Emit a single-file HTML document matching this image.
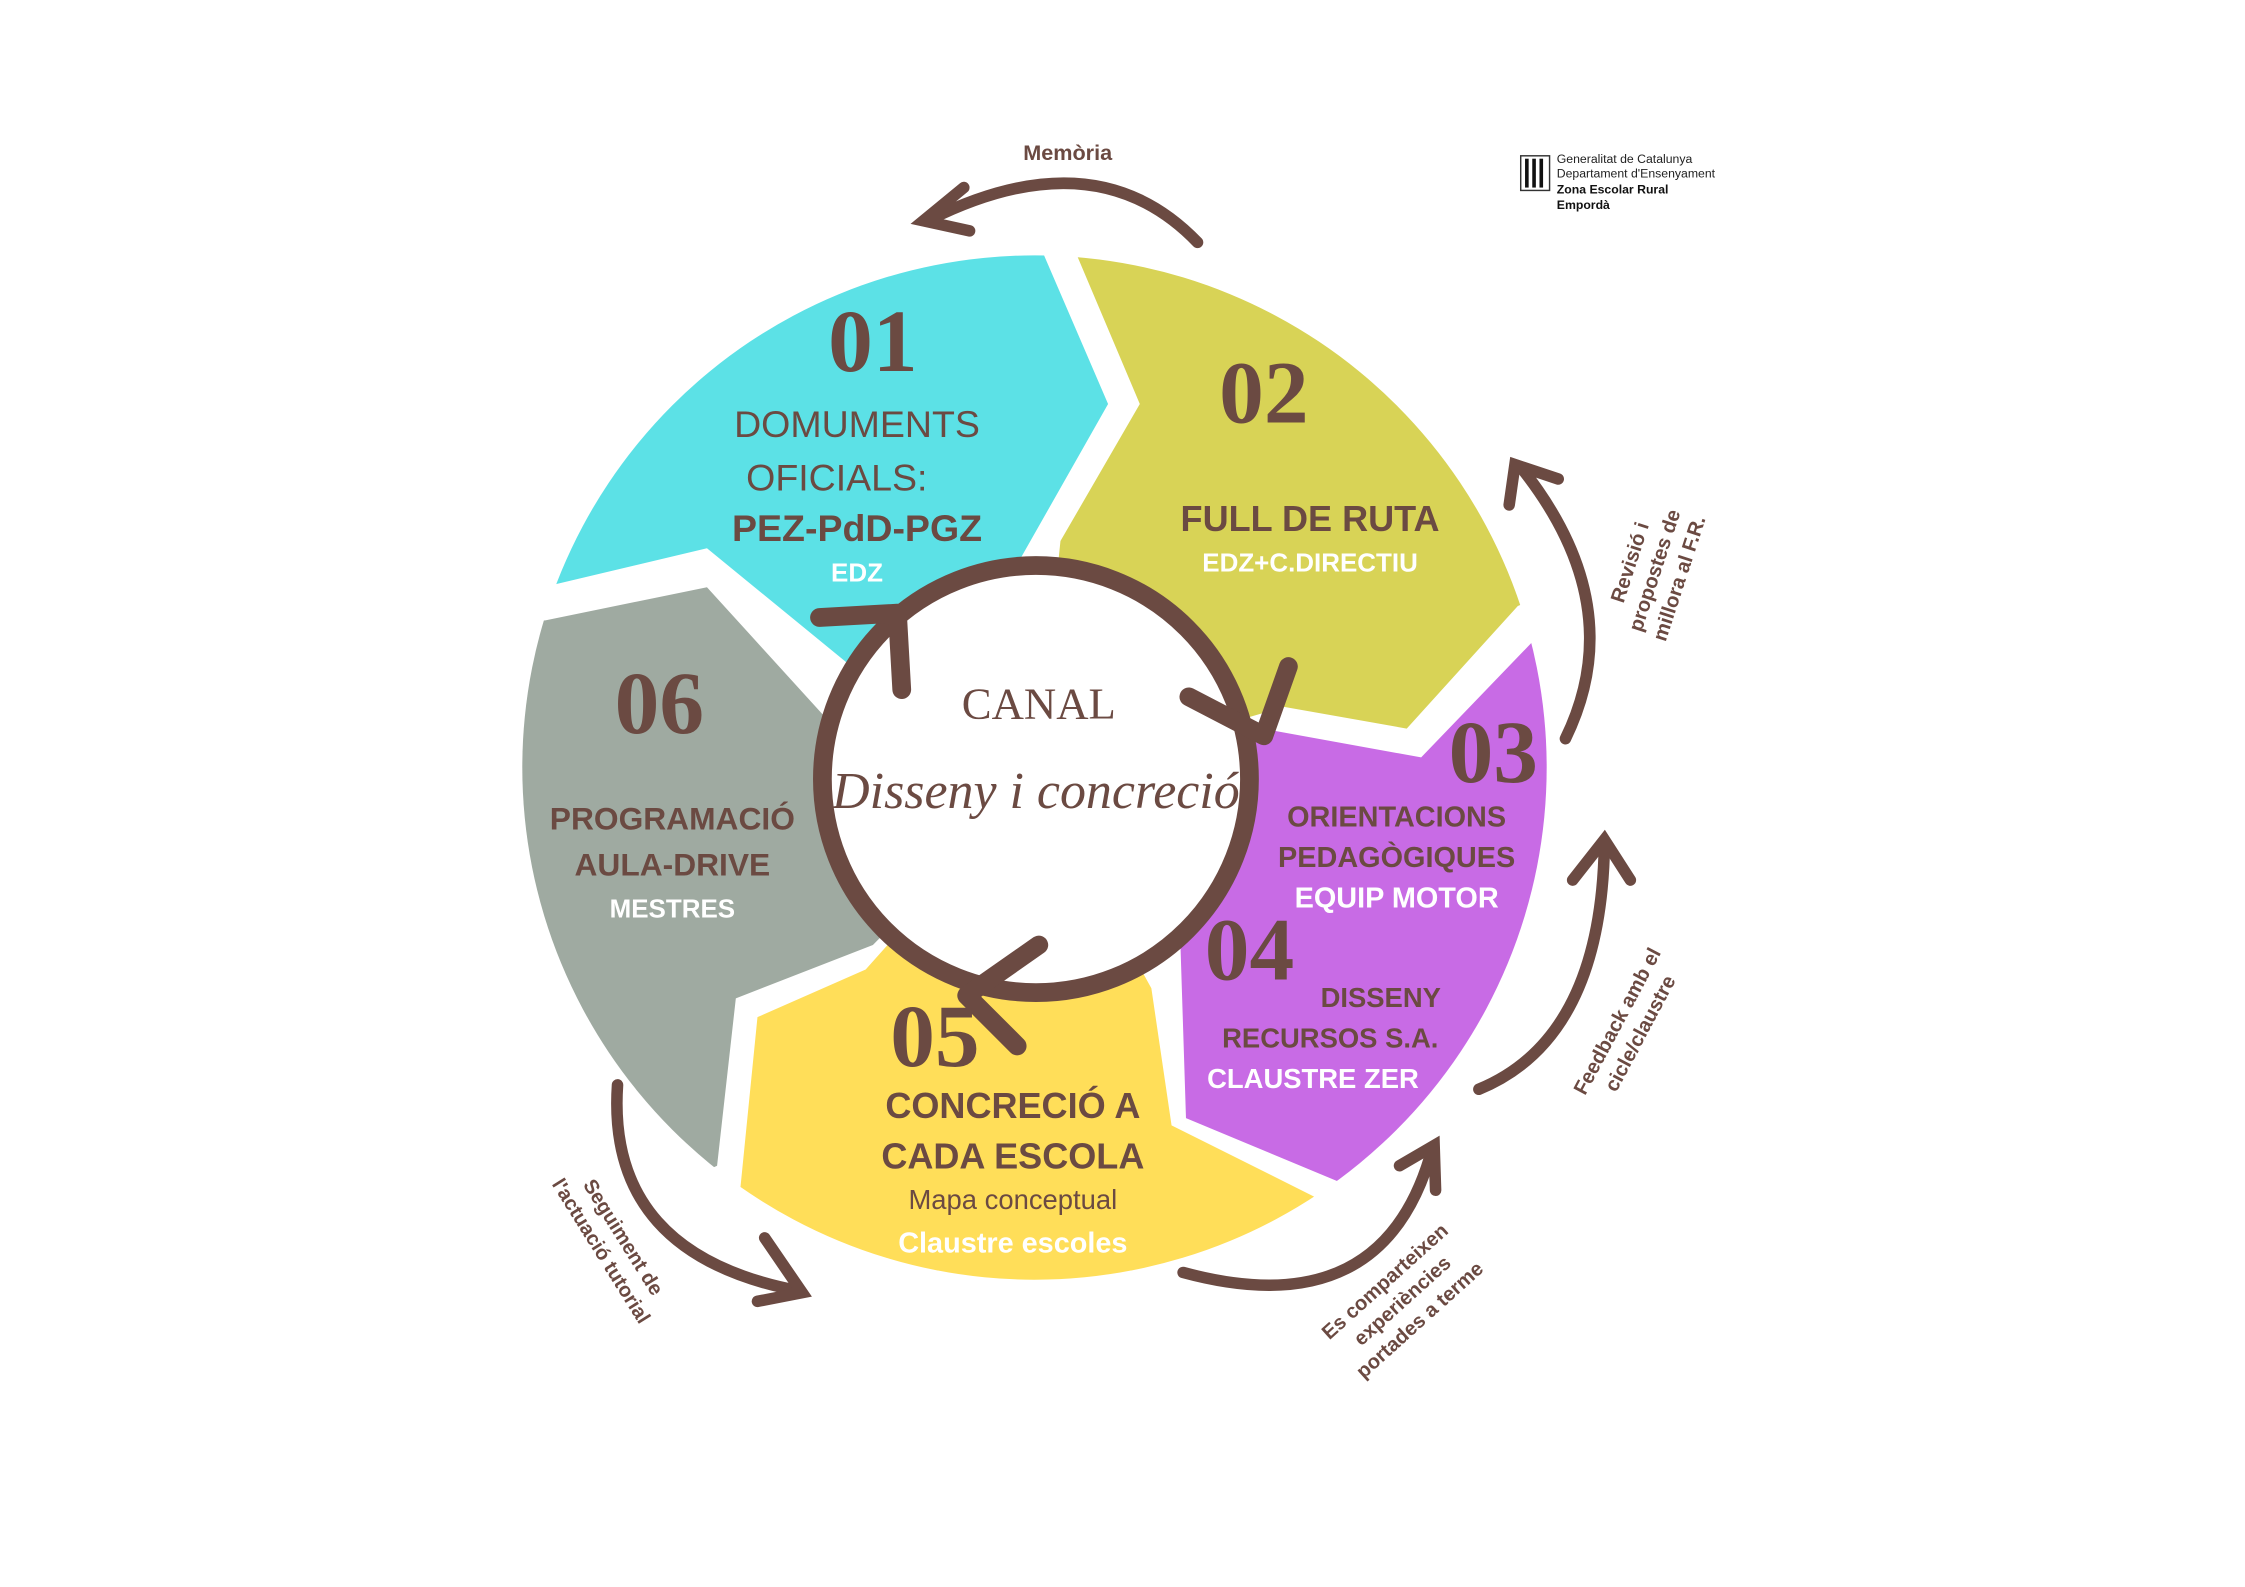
<!DOCTYPE html>
<html><head><meta charset="utf-8"><style>
html,body{margin:0;padding:0;background:#fff;}
svg{display:block;font-family:"Liberation Sans",sans-serif;}
.s{font-family:"Liberation Serif",serif;}
</style></head><body>
<svg width="2245" height="1587" viewBox="0 0 1556 1100" preserveAspectRatio="none" xmlns="http://www.w3.org/2000/svg">
<defs><clipPath id="c"><circle cx="717" cy="532" r="355"/></clipPath></defs>
<g clip-path="url(#c)">
<polygon fill="#5ce1e6" points="712,150 768,280 700,400 600,470 490,380 385,405 300,420 300,150"/>
<polygon fill="#d8d356" points="735,150 790,280 735,375 718,540 890,490 975,505 1052,420 1100,400 1100,150"/>
<polygon fill="#c86be5" points="875,505 985,525 1062,445 1120,440 1120,950 930,820 822,775 818,650 718,540"/>
<polygon fill="#ffde59" points="525,705 600,672 718,540 798,685 812,780 912,830 900,950 500,950 513,825"/>
<polygon fill="#9faaa1" points="300,435 378,430 490,407 570,495 718,540 605,655 510,692 497,808 300,900"/>
</g>
<circle cx="718" cy="540" r="148" fill="#fff" stroke="#6b4a42" stroke-width="13"/>
<g fill="none" stroke="#6b4a42" stroke-width="13" stroke-linecap="round" stroke-linejoin="round">
<polyline points="568,428 622,425 625,478"/>
<polyline points="824,483 876,510 893,462"/>
<polyline points="720,655 670,690 705,725"/>
</g>
<g fill="#6b4a42" text-anchor="middle">
<text class="s" x="605" y="257" font-weight="bold" font-size="62">01</text>
<text class="s" x="876" y="293" font-weight="bold" font-size="62">02</text>
<text class="s" x="1035" y="542" font-weight="bold" font-size="62">03</text>
<text class="s" x="866" y="679" font-weight="bold" font-size="62">04</text>
<text class="s" x="648" y="739" font-weight="bold" font-size="62">05</text>
<text class="s" x="457" y="508" font-weight="bold" font-size="62">06</text>
<text x="594" y="303" font-size="26">DOMUMENTS</text>
<text x="580" y="340" font-size="26">OFICIALS:</text>
<text x="594" y="375" font-size="26" font-weight="bold">PEZ-PdD-PGZ</text>
<text x="594" y="403" font-size="18" font-weight="bold" fill="#fff">EDZ</text>
<text x="908" y="368" font-size="25" font-weight="bold">FULL DE RUTA</text>
<text x="908" y="396" font-size="18" font-weight="bold" fill="#fff">EDZ+C.DIRECTIU</text>
<text x="968" y="573" font-size="20" font-weight="bold">ORIENTACIONS</text>
<text x="968" y="601" font-size="20" font-weight="bold">PEDAGÒGIQUES</text>
<text x="968" y="629" font-size="20" font-weight="bold" fill="#fff">EQUIP MOTOR</text>
<text x="957" y="698" font-size="19" font-weight="bold">DISSENY</text>
<text x="922" y="726" font-size="19" font-weight="bold">RECURSOS S.A.</text>
<text x="910" y="754" font-size="19" font-weight="bold" fill="#fff">CLAUSTRE ZER</text>
<text x="702" y="775" font-size="25" font-weight="bold">CONCRECIÓ A</text>
<text x="702" y="810" font-size="25" font-weight="bold">CADA ESCOLA</text>
<text x="702" y="838" font-size="19">Mapa conceptual</text>
<text x="702" y="868" font-size="20" font-weight="bold" fill="#fff">Claustre escoles</text>
<text x="466" y="575" font-size="22" font-weight="bold">PROGRAMACIÓ</text>
<text x="466" y="607" font-size="22" font-weight="bold">AULA-DRIVE</text>
<text x="466" y="636" font-size="18" font-weight="bold" fill="#fff">MESTRES</text>
<text class="s" x="720" y="498" font-size="31">CANAL</text>
<text class="s" x="718" y="560" font-style="italic" font-size="36">Disseny i concreció</text>
<text x="740" y="111" font-size="15" font-weight="bold">Memòria</text>
</g>
<g fill="none" stroke="#6b4a42" stroke-width="8" stroke-linecap="round">
<path d="M830,168 Q760,95 645,152"/>
<polyline points="668,130 640,153 672,160"/>
<path d="M1085,512 Q1130,420 1055,325"/>
<polyline points="1046,350 1050,322 1080,332"/>
<path d="M1025,755 Q1110,720 1112,585"/>
<polyline points="1090,610 1112,582 1130,610"/>
<path d="M820,882 Q960,920 993,795"/>
<polyline points="970,808 994,794 995,825"/>
<path d="M428,752 Q420,870 555,895"/>
<polyline points="530,858 556,896 525,902"/>
</g>
<g fill="#6b4a42" font-weight="bold" font-size="14" text-anchor="middle">
<g transform="translate(1155,398) rotate(-72)"><text x="0" y="-22">Revisió i</text><text x="0" y="-4">propostes de</text><text x="0" y="14">millora al F.R.</text></g>
<g transform="translate(1125,710) rotate(-62)"><text x="0" y="0">Feedback amb el</text><text x="0" y="18">cicle/claustre</text></g>
<g transform="translate(975,905) rotate(-42)"><text x="0" y="-18">Es comparteixen</text><text x="0" y="0">experiències</text><text x="0" y="18">portades a terme</text></g>
<g transform="translate(428,860) rotate(58)"><text x="0" y="0">Seguiment de</text><text x="0" y="18">l'actuació tutorial</text></g>
</g>
<g>
<rect x="1054" y="108" width="20" height="24" fill="#fff" stroke="#333" stroke-width="1"/>
<rect x="1057" y="110" width="2.5" height="20" fill="#111"/><rect x="1062" y="110" width="2.5" height="20" fill="#111"/><rect x="1067" y="110" width="2.5" height="20" fill="#111"/>
<text x="1079" y="113" font-size="8.5" fill="#222">Generalitat de Catalunya</text>
<text x="1079" y="123" font-size="8.5" fill="#222">Departament d'Ensenyament</text>
<text x="1079" y="134" font-size="8.5" font-weight="bold" fill="#111">Zona Escolar Rural</text>
<text x="1079" y="145" font-size="8.5" font-weight="bold" fill="#111">Empordà</text>
</g>
</svg>
</body></html>
